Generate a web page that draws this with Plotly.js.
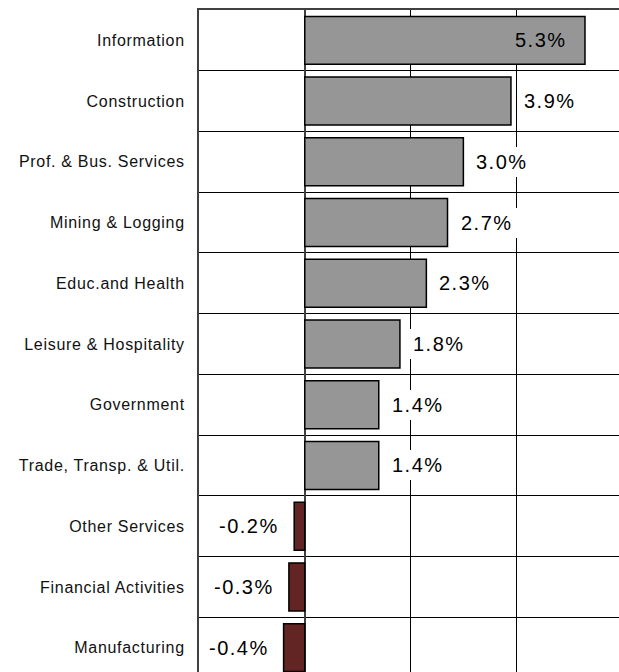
<!DOCTYPE html>
<html>
<head>
<meta charset="utf-8">
<script src="https://cdn.plot.ly/plotly-3.0.1.min.js"></script>
<style>
  html, body { margin: 0; padding: 0; overflow: hidden; background: #fff; }
  #chart { width: 640px; height: 700px; }
  .annotation-text { letter-spacing: 1.5px; }
  .ytick text { letter-spacing: 0.7px; }
</style>
</head>
<body>
<div id="chart"></div>
<script>
const categories = [
  "Information", "Construction", "Prof. & Bus. Services", "Mining & Logging",
  "Educ.and Health", "Leisure & Hospitality", "Government",
  "Trade, Transp. & Util.", "Other Services", "Financial Activities", "Manufacturing"
];
const growth = [5.3, 3.9, 3.0, 2.7, 2.3, 1.8, 1.4, 1.4, -0.2, -0.3, -0.4];

const posColor = "#969696";
const negColor = "#632523";

const trace = {
  type: "bar",
  orientation: "h",
  y: categories,
  x: growth,
  marker: {
    color: growth.map(v => v >= 0 ? posColor : negColor),
    line: { color: "#000000", width: 1.5 }
  },
  hoverinfo: "none"
};

const annotations = growth.map((v, i) => {
  const txt = v.toFixed(1) + "%";
  const base = {
    x: v, y: categories[i], xref: "x", yref: "y",
    text: txt, showarrow: false,
    font: { family: "Liberation Sans, Arial, sans-serif", size: 20, color: "#000" },
    borderpad: 4, borderwidth: 0
  };
  if (v > 4.5) {
    return Object.assign(base, { xanchor: "right", xshift: -14 });
  } else if (v >= 0) {
    return Object.assign(base, { xanchor: "left", xshift: 9, bgcolor: "#ffffff" });
  } else {
    return Object.assign(base, { xanchor: "right", xshift: -11, bgcolor: "#ffffff" });
  }
});

const layout = {
  width: 640, height: 700,
  margin: { l: 199, r: 18, t: 10, b: 22, pad: 0 },
  paper_bgcolor: "#ffffff", plot_bgcolor: "#ffffff",
  showlegend: false,
  bargap: 0.21,
  xaxis: {
    range: [-2, 6], dtick: 2, tick0: 0,
    showticklabels: false, ticks: "",
    showgrid: true, gridcolor: "#000000", gridwidth: 1,
    zeroline: true, zerolinecolor: "#404040", zerolinewidth: 2,
    showline: true, mirror: true, linecolor: "#404040", linewidth: 2,
    fixedrange: true
  },
  yaxis: {
    type: "category", autorange: "reversed",
    tickson: "boundaries", ticks: "",
    showgrid: true, gridcolor: "#000000", gridwidth: 1,
    showline: true, mirror: true, linecolor: "#404040", linewidth: 2,
    ticklabelstandoff: 9,
    tickfont: { family: "Liberation Sans, Arial, sans-serif", size: 16, color: "#111111" },
    fixedrange: true
  },
  annotations: annotations
};

Plotly.newPlot("chart", [trace], layout, { displayModeBar: false, staticPlot: true });
</script>
</body>
</html>
